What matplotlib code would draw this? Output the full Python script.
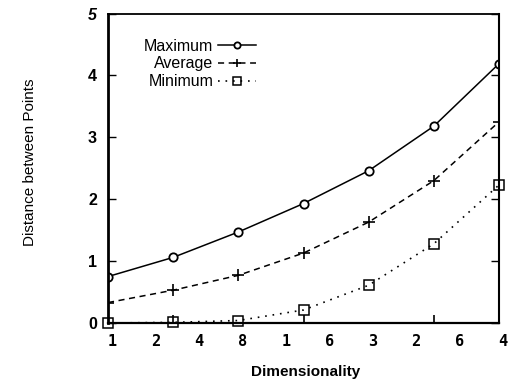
import numpy as np
import matplotlib
matplotlib.use("Agg")
import matplotlib.pyplot as plt
import matplotlib.transforms as mtransforms

dims = [1, 2, 4, 8, 16, 32, 64]
maximum = [0.75, 1.06, 1.47, 1.93, 2.46, 3.18, 4.19]
average = [0.33, 0.53, 0.77, 1.13, 1.63, 2.30, 3.25]
minimum = [0.0, 0.01, 0.04, 0.21, 0.61, 1.28, 2.23]
xtick_labels = ["1", "2", "4", "8", "1", "6", "3", "2", "6", "4"]
ytick_values = [0, 1, 2, 3, 4, 5]

fig = plt.figure(figsize=(5.18, 3.84), dpi=100)
ax = fig.add_axes([108/518, 1-323/384, (499-108)/518, (323-13.5)/384])

ax.set_xscale("log", base=2)
ax.set_xlim(1, 64)
ax.set_ylim(0, 5)

ax.plot(dims, maximum, color="black", lw=1.1, ls="-", marker="o", ms=6,
        mfc="white", mec="black", mew=1.3, label="Maximum")
ax.plot(dims, average, color="black", lw=1.1, ls=(0, (4, 3)), marker="+", ms=8,
        mew=1.2, label="Average")
ax.plot(dims, minimum, color="black", lw=1.2, ls=(0, (1, 3.5)), marker="s", ms=7,
        mfc="none", mec="black", mew=1.1, label="Minimum", clip_on=False)

# tick marks at data positions (minor), labels evenly spaced (major)
ax.xaxis.set_minor_locator(matplotlib.ticker.FixedLocator(dims))
ax.xaxis.set_minor_formatter(matplotlib.ticker.NullFormatter())
lab_pos = 2 ** np.linspace(0, 6, len(xtick_labels))
ax.set_xticks(lab_pos)
ax.set_xticklabels(xtick_labels, family="DejaVu Sans Mono", fontweight="bold", fontsize=11)
ax.tick_params(axis="x", which="major", length=0, pad=8)
ax.tick_params(axis="x", which="minor", direction="in", length=6, width=1.2,
               top=False, bottom=True)
off = mtransforms.ScaledTranslation(4/100, 0, fig.dpi_scale_trans)
for lab in ax.get_xticklabels():
    lab.set_transform(lab.get_transform() + off)

ax.set_yticks(ytick_values)
ax.set_yticklabels([str(v) for v in ytick_values], family="Liberation Sans",
                   fontweight="bold", fontsize=11.5)
ax.get_yticklabels()[-1].set_fontstyle("italic")
ax.tick_params(axis="y", direction="in", length=6, width=1.0, left=True, right=True, pad=8)

ax.spines["left"].set_linewidth(2.0)
ax.spines["bottom"].set_linewidth(1.6)
ax.spines["right"].set_linewidth(1.5)
ax.spines["top"].set_linewidth(1.3)

ax.set_xlabel("Dimensionality", family="Liberation Sans", fontweight="bold", fontsize=11)
ax.xaxis.set_label_coords(0.505, -0.135)
ax.set_ylabel("Distance between Points", family="Liberation Sans", fontsize=11)
ax.yaxis.set_label_coords(-0.182, 0.52)

leg = ax.legend(loc="upper left", bbox_to_anchor=(0.055, 0.965), frameon=False,
                markerfirst=False, handlelength=2.4, handletextpad=0.3,
                labelspacing=0.17, markerscale=0.75,
                prop={"family": "Liberation Sans", "size": 11.5})
for col in leg._legend_handle_box.get_children():
    col.align = "right"

fig.savefig("out.png", dpi=100)
